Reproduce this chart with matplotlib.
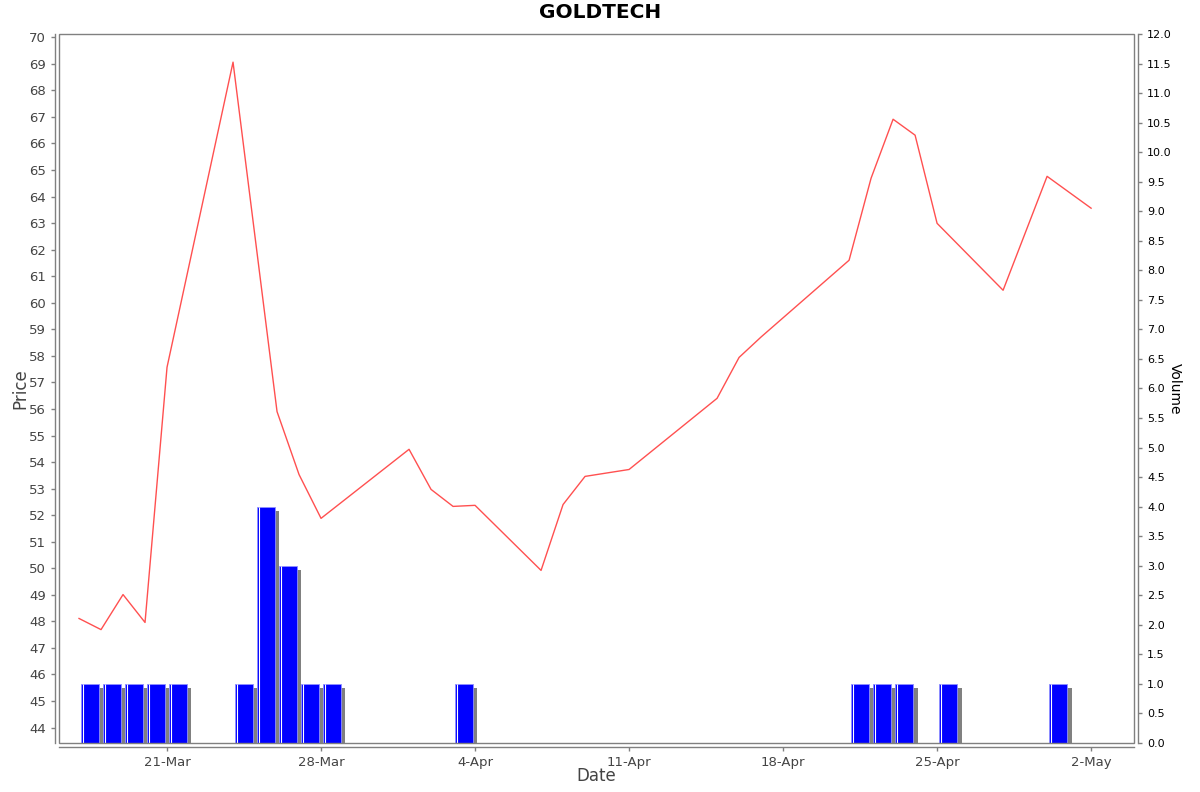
import numpy as np
import pandas as pd
import matplotlib
matplotlib.use("Agg")
import matplotlib.pyplot as plt
import matplotlib.dates as mdates
from matplotlib.patches import Rectangle


# price line (close)
price_dates = ['2025-03-17', '2025-03-18', '2025-03-19', '2025-03-20', '2025-03-21',
               '2025-03-24', '2025-03-26', '2025-03-27', '2025-03-28',
               '2025-04-01', '2025-04-02', '2025-04-03', '2025-04-04',
               '2025-04-07', '2025-04-08', '2025-04-09', '2025-04-11',
               '2025-04-15', '2025-04-16', '2025-04-17',
               '2025-04-21', '2025-04-22', '2025-04-23', '2025-04-24', '2025-04-25',
               '2025-04-28', '2025-04-30', '2025-05-02']
prices = [48.11, 47.69, 49.01, 47.96, 57.57,
          69.06, 55.90, 53.53, 51.88,
          54.48, 52.97, 52.33, 52.37,
          49.92, 52.40, 53.46, 53.72,
          56.40, 57.94, 58.71,
          61.60, 64.69, 66.91, 66.31, 62.99,
          60.47, 64.76, 63.56]

# volume bars
vol_dates = ['2025-03-17', '2025-03-18', '2025-03-19', '2025-03-20', '2025-03-21',
             '2025-03-24', '2025-03-25', '2025-03-26', '2025-03-27', '2025-03-28',
             '2025-04-03',
             '2025-04-21', '2025-04-22', '2025-04-23', '2025-04-25',
             '2025-04-30']
volumes = [1, 1, 1, 1, 1,
           1, 4, 3, 1, 1,
           1,
           1, 1, 1, 1,
           1]

pd_dates = mdates.date2num(pd.to_datetime(price_dates))
vd = mdates.date2num(pd.to_datetime(vol_dates))
volumes = np.array(volumes, dtype=float)

fig = plt.figure(figsize=(12, 7.92), dpi=100)
ax = fig.add_axes([59/1200, 49/792, (1134-59)/1200, (743-34)/792])
ax2 = ax.twinx()

# bars on the volume axis, with a gray drop shadow
bw = 0.8
ax2.bar(vd + 0.09 + 0.22, volumes - 0.068, width=bw, align='edge',
        color='#808080', zorder=1)
ax2.bar(vd + 0.09, volumes, width=bw, align='edge', color='#0000ff',
        edgecolor='#9090ff', linewidth=0.6, zorder=2)
ax2.vlines(vd + 0.09 + 0.08, 0, volumes, color='white', lw=0.8, zorder=3)

# price line on top
ax.set_zorder(ax2.get_zorder() + 1)
ax.patch.set_visible(False)
ax.plot(pd_dates, prices, color='#ff5050', lw=1)

xmin = mdates.date2num(pd.Timestamp('2025-03-16')) + 0.09
xmax = mdates.date2num(pd.Timestamp('2025-05-03')) + 0.95
ax.set_xlim(xmin, xmax)
ax.set_ylim(43.42, 70.12)
ax2.set_ylim(0, 12)

ticks = pd.to_datetime(['2025-03-21', '2025-03-28', '2025-04-04', '2025-04-11',
                        '2025-04-18', '2025-04-25', '2025-05-02'])
ax.set_xticks(mdates.date2num(ticks))
ax.set_xticklabels([f"{t.day}-{t.strftime('%b')}" for t in ticks])
ax.set_yticks(np.arange(44, 71, 1))
ax2.set_yticks(np.arange(0, 12.01, 0.5))
ax2.set_yticklabels([f"{v:.1f}" for v in np.arange(0, 12.01, 0.5)])

for a in (ax, ax2):
    for s in a.spines.values():
        s.set_visible(False)
ax.spines['left'].set_visible(True)
ax.spines['bottom'].set_visible(True)
ax2.spines['right'].set_visible(True)
ax.spines['left'].set_position(('outward', 3))
ax.spines['bottom'].set_position(('outward', 3))
ax2.spines['right'].set_position(('outward', 3))
for s in (ax.spines['left'], ax.spines['bottom'], ax2.spines['right']):
    s.set_color('#808080')
    s.set_linewidth(1)

# plot outline
ax.add_patch(Rectangle((0, 0), 1, 1, transform=ax.transAxes, fill=False,
                       edgecolor='#808080', lw=1, clip_on=False, zorder=5))

ax.tick_params(axis='both', colors='#808080', length=3, width=1,
               labelcolor='#444444', labelsize=9.5)
ax2.tick_params(axis='y', colors='#808080', length=3, width=1,
                labelcolor='black', labelsize=8)

ax.set_xlabel('Date', fontsize=12, color='#444444')
ax.set_ylabel('Price', fontsize=12, color='#444444')
ax2.set_ylabel('Volume', fontsize=10, color='black', rotation=270)
ax.xaxis.set_label_coords(0.5, -0.0465)
ax.yaxis.set_label_coords(-0.0363, 0.5)
ax2.yaxis.set_label_coords(1.038, 0.5)
ax.xaxis.label.set_va('center')
ax.yaxis.label.set_va('center')
ax2.yaxis.label.set_va('center')

fig.text(0.5, 1 - 13/792, 'GOLDTECH', ha='center', va='center',
         fontsize=14.5, fontweight='bold')

fig.savefig('out.png', dpi=100)
